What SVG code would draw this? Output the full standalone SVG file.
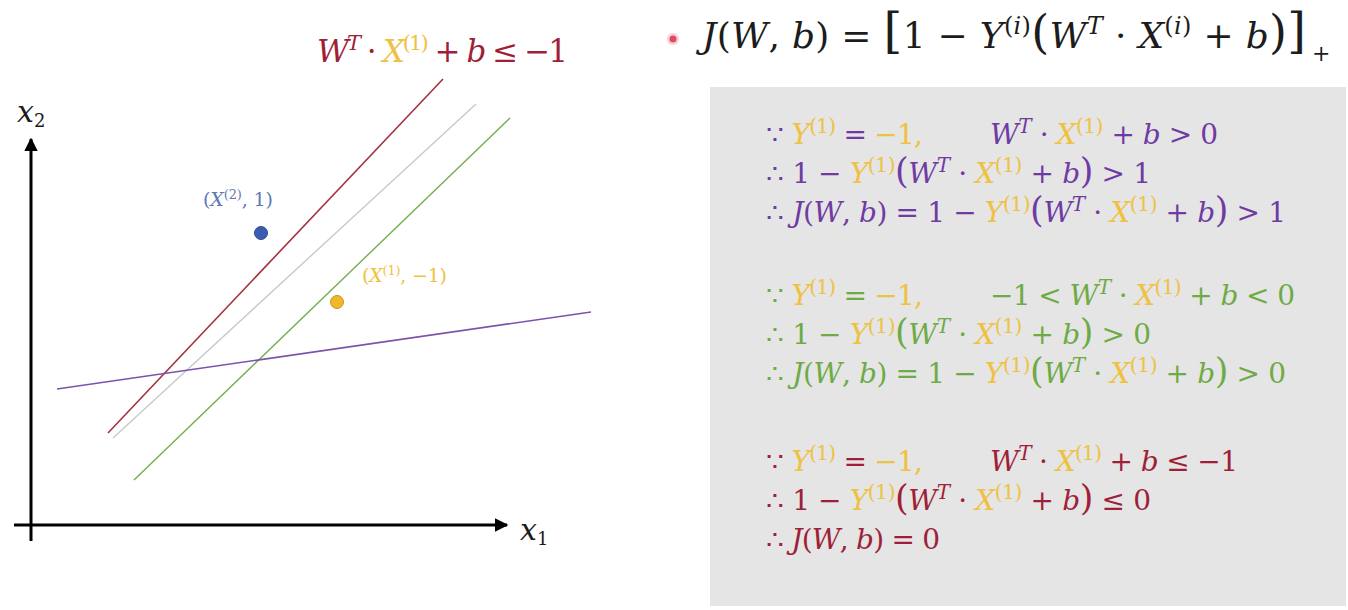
<svg xmlns="http://www.w3.org/2000/svg" width="1348" height="610" viewBox="0 0 1348 610">
<defs>
<style>
.m{font-family:"DejaVu Serif","Liberation Serif",serif;}
.i{font-style:italic}
.pu{fill:#6f3ba3}
.ye{fill:#efc142}
.gr{fill:#6eab46}
.rd{fill:#9e1f37}
.bk{fill:#1c1c1c}
.bl{fill:#6079b6}
.ax{stroke:#000;stroke-width:3;fill:none}
</style>
<marker id="arr" viewBox="0 0 10 10" refX="9" refY="5" markerWidth="4.5" markerHeight="4.5" orient="auto" markerUnits="strokeWidth">
<path d="M0,0 L10,5 L0,10 Z" fill="#000"/>
</marker>
</defs>
<rect width="1348" height="610" fill="#ffffff"/>

<g id="plot">
<g id="axes">
<line class="ax" x1="31" y1="541" x2="31" y2="139" marker-end="url(#arr)"/>
<line class="ax" x1="14" y1="525" x2="507" y2="525" marker-end="url(#arr)"/>
<text class="m i bk" x="17" y="122" font-size="30">x<tspan font-style="normal" font-size="18" dy="5">2</tspan></text>
<text class="m i bk" x="520" y="540" font-size="30">x<tspan font-style="normal" font-size="18" dy="5">1</tspan></text>
</g>
<g id="connectors">
<line x1="108" y1="433" x2="443" y2="79" stroke="#a3323f" stroke-width="1.6"/>
<line x1="113" y1="438" x2="476" y2="104" stroke="#c9c9c9" stroke-width="1.4"/>
<line x1="134" y1="480" x2="510" y2="118" stroke="#76ad50" stroke-width="1.4"/>
<line x1="57" y1="389" x2="591" y2="312" stroke="#7d52ad" stroke-width="1.6"/>
</g>
<g id="point-x2">
<circle cx="261" cy="233" r="6.5" fill="#3c5cb4" stroke="#2d4c98" stroke-width="1"/>
<text class="m bl" x="203" y="206" font-size="19" textLength="70" lengthAdjust="spacing">(<tspan class="i">X</tspan><tspan font-size="13" dy="-7">(2)</tspan><tspan dy="7">, 1)</tspan></text>
</g>
<g id="point-x1">
<circle cx="337" cy="302" r="6.5" fill="#f1b82b" stroke="#c8961e" stroke-width="1"/>
<text class="m ye" x="362" y="282" font-size="19" textLength="85" lengthAdjust="spacing">(<tspan class="i">X</tspan><tspan font-size="13" dy="-7">(1)</tspan><tspan dy="7">, −1)</tspan></text>
</g>
<g id="title">
<text class="m rd" x="317" y="62" font-size="31" textLength="251" lengthAdjust="spacing"><tspan class="i">W</tspan><tspan class="i" font-size="21" dy="-12">T</tspan><tspan dy="12"> · </tspan><tspan class="ye i">X</tspan><tspan class="ye" font-size="21" dy="-12">(1)</tspan><tspan dy="12"> + </tspan><tspan class="i">b</tspan> ≤ −1</text>
</g>
</g>

<g id="formula">
<circle cx="673" cy="39" r="6" fill="#e9667f" opacity="0.3"/>
<circle cx="673" cy="39" r="3.5" fill="#df4a66"/>
<text class="m bk" x="702" y="48" font-size="36" textLength="604" lengthAdjust="spacing"><tspan class="i">J</tspan>(<tspan class="i">W</tspan>, <tspan class="i">b</tspan>) = <tspan font-size="48">[</tspan>1 − <tspan class="i">Y</tspan><tspan font-size="24" dy="-14">(<tspan class="i">i</tspan>)</tspan><tspan font-size="46" dy="14">(</tspan><tspan class="i">W</tspan><tspan class="i" font-size="24" dy="-14">T</tspan><tspan dy="14"> · </tspan><tspan class="i">X</tspan><tspan font-size="24" dy="-14">(<tspan class="i">i</tspan>)</tspan><tspan dy="14"> + </tspan><tspan class="i">b</tspan><tspan font-size="46">)</tspan><tspan font-size="48">]</tspan></text>
<text class="m bk" x="1312" y="61" font-size="22">+</text>
</g>

<g id="panel">
<rect x="710" y="87" width="636" height="519" fill="#e5e5e5"/>

<g id="case1">
<text class="m pu" x="766" y="144" font-size="28" textLength="157" lengthAdjust="spacing">∵ <tspan class="ye i">Y</tspan><tspan class="ye" font-size="20" dy="-11">(1)</tspan><tspan dy="11"> = </tspan><tspan class="ye">−1,</tspan></text>
<text class="m pu" x="990" y="144" font-size="28" textLength="228" lengthAdjust="spacing"><tspan class="i">W</tspan><tspan class="i" font-size="20" dy="-11">T</tspan><tspan dy="11"> · </tspan><tspan class="ye i">X</tspan><tspan class="ye" font-size="20" dy="-11">(1)</tspan><tspan dy="11"> + </tspan><tspan class="i">b</tspan> &gt; 0</text>
<text class="m pu" x="766" y="183" font-size="28" textLength="385" lengthAdjust="spacing">∴ 1 − <tspan class="ye i">Y</tspan><tspan class="ye" font-size="20" dy="-11">(1)</tspan><tspan dy="11" font-size="35">(</tspan><tspan class="i">W</tspan><tspan class="i" font-size="20" dy="-11">T</tspan><tspan dy="11"> · </tspan><tspan class="ye i">X</tspan><tspan class="ye" font-size="20" dy="-11">(1)</tspan><tspan dy="11"> + </tspan><tspan class="i">b</tspan><tspan font-size="35">)</tspan> &gt; 1</text>
<text class="m pu" x="766" y="222" font-size="28" textLength="520" lengthAdjust="spacing">∴ <tspan class="i">J</tspan>(<tspan class="i">W</tspan>, <tspan class="i">b</tspan>) = 1 − <tspan class="ye i">Y</tspan><tspan class="ye" font-size="20" dy="-11">(1)</tspan><tspan dy="11" font-size="35">(</tspan><tspan class="i">W</tspan><tspan class="i" font-size="20" dy="-11">T</tspan><tspan dy="11"> · </tspan><tspan class="ye i">X</tspan><tspan class="ye" font-size="20" dy="-11">(1)</tspan><tspan dy="11"> + </tspan><tspan class="i">b</tspan><tspan font-size="35">)</tspan> &gt; 1</text>
</g>

<g id="case2">
<text class="m gr" x="766" y="305" font-size="28" textLength="157" lengthAdjust="spacing">∵ <tspan class="ye i">Y</tspan><tspan class="ye" font-size="20" dy="-11">(1)</tspan><tspan dy="11"> = </tspan><tspan class="ye">−1,</tspan></text>
<text class="m gr" x="990" y="305" font-size="28" textLength="305" lengthAdjust="spacing">−1 &lt; <tspan class="i">W</tspan><tspan class="i" font-size="20" dy="-11">T</tspan><tspan dy="11"> · </tspan><tspan class="ye i">X</tspan><tspan class="ye" font-size="20" dy="-11">(1)</tspan><tspan dy="11"> + </tspan><tspan class="i">b</tspan> &lt; 0</text>
<text class="m gr" x="766" y="344" font-size="28" textLength="385" lengthAdjust="spacing">∴ 1 − <tspan class="ye i">Y</tspan><tspan class="ye" font-size="20" dy="-11">(1)</tspan><tspan dy="11" font-size="35">(</tspan><tspan class="i">W</tspan><tspan class="i" font-size="20" dy="-11">T</tspan><tspan dy="11"> · </tspan><tspan class="ye i">X</tspan><tspan class="ye" font-size="20" dy="-11">(1)</tspan><tspan dy="11"> + </tspan><tspan class="i">b</tspan><tspan font-size="35">)</tspan> &gt; 0</text>
<text class="m gr" x="766" y="383" font-size="28" textLength="520" lengthAdjust="spacing">∴ <tspan class="i">J</tspan>(<tspan class="i">W</tspan>, <tspan class="i">b</tspan>) = 1 − <tspan class="ye i">Y</tspan><tspan class="ye" font-size="20" dy="-11">(1)</tspan><tspan dy="11" font-size="35">(</tspan><tspan class="i">W</tspan><tspan class="i" font-size="20" dy="-11">T</tspan><tspan dy="11"> · </tspan><tspan class="ye i">X</tspan><tspan class="ye" font-size="20" dy="-11">(1)</tspan><tspan dy="11"> + </tspan><tspan class="i">b</tspan><tspan font-size="35">)</tspan> &gt; 0</text>
</g>

<g id="case3">
<text class="m rd" x="766" y="471" font-size="28" textLength="157" lengthAdjust="spacing">∵ <tspan class="ye i">Y</tspan><tspan class="ye" font-size="20" dy="-11">(1)</tspan><tspan dy="11"> = </tspan><tspan class="ye">−1,</tspan></text>
<text class="m rd" x="990" y="471" font-size="28" textLength="248" lengthAdjust="spacing"><tspan class="i">W</tspan><tspan class="i" font-size="20" dy="-11">T</tspan><tspan dy="11"> · </tspan><tspan class="ye i">X</tspan><tspan class="ye" font-size="20" dy="-11">(1)</tspan><tspan dy="11"> + </tspan><tspan class="i">b</tspan> ≤ −1</text>
<text class="m rd" x="766" y="510" font-size="28" textLength="385" lengthAdjust="spacing">∴ 1 − <tspan class="ye i">Y</tspan><tspan class="ye" font-size="20" dy="-11">(1)</tspan><tspan dy="11" font-size="35">(</tspan><tspan class="i">W</tspan><tspan class="i" font-size="20" dy="-11">T</tspan><tspan dy="11"> · </tspan><tspan class="ye i">X</tspan><tspan class="ye" font-size="20" dy="-11">(1)</tspan><tspan dy="11"> + </tspan><tspan class="i">b</tspan><tspan font-size="35">)</tspan> ≤ 0</text>
<text class="m rd" x="766" y="549" font-size="28" textLength="174" lengthAdjust="spacing">∴ <tspan class="i">J</tspan>(<tspan class="i">W</tspan>, <tspan class="i">b</tspan>) = 0</text>
</g>
</g>
</svg>
